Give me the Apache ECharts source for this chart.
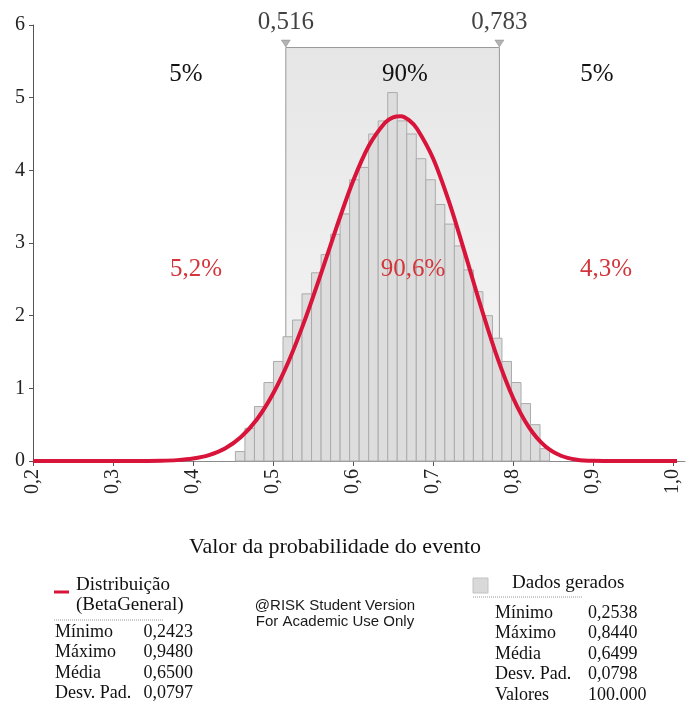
<!DOCTYPE html>
<html>
<head>
<meta charset="utf-8">
<script src="https://cdn.jsdelivr.net/npm/echarts@6/dist/echarts.min.js"></script>
<style>
  html, body { margin: 0; padding: 0; background: #ffffff; }
  #chart { width: 689px; height: 702px; }
</style>
</head>
<body>
<div id="chart"></div>
<script>
// Axis ticks
const xTicks = [0.2, 0.3, 0.4, 0.5, 0.6, 0.7, 0.8, 0.9, 1.0];
const yTicks = [0, 1, 2, 3, 4, 5, 6];

// Histogram of generated values (density per bin)
const binStart = 0.453;
const binWidth = 0.0119;
const binHeights = [
  0.13, 0.45, 0.75, 1.08, 1.37, 1.71, 1.94, 2.30, 2.59, 2.84, 3.12,
  3.40, 3.87, 4.04, 4.50, 4.68, 5.07, 4.68, 4.50, 4.16, 3.87, 3.53,
  3.26, 2.96, 2.63, 2.33, 2.00, 1.69, 1.37, 1.08, 0.79, 0.50, 0.17
];

// Fitted BetaGeneral density
const curveX = [0.20, 0.24, 0.30, 0.34, 0.36, 0.38, 0.40, 0.42, 0.44, 0.46, 0.48,
  0.50, 0.52, 0.54, 0.56, 0.58, 0.60, 0.62, 0.64, 0.65, 0.66, 0.67, 0.68, 0.70,
  0.72, 0.74, 0.76, 0.78, 0.80, 0.82, 0.84, 0.86, 0.88, 0.90, 0.92, 0.96, 1.005];
const curveY = [0, 0, 0, 0.001, 0.003, 0.012, 0.034, 0.082, 0.173, 0.331, 0.575,
  0.926, 1.384, 1.946, 2.578, 3.235, 3.850, 4.341, 4.655, 4.730, 4.745, 4.690, 4.572, 4.166,
  3.568, 2.858, 2.119, 1.436, 0.871, 0.463, 0.206, 0.072, 0.018, 0.002, 0, 0, 0];

// 90% band limits
const bandLimits = [0.516, 0.783];
const bandTop = 5.69;
const targetPct = ['5%', '90%', '5%'];
const fittedPct = ['5,2%', '90,6%', '4,3%'];

// Summary tables
const fitName = ['Distribuição', '(BetaGeneral)'];
const fitStatLabels = ['Mínimo', 'Máximo', 'Média', 'Desv. Pad.'];
const fitStatValues = ['0,2423', '0,9480', '0,6500', '0,0797'];
const dataName = 'Dados gerados';
const dataStatLabels = ['Mínimo', 'Máximo', 'Média', 'Desv. Pad.', 'Valores'];
const dataStatValues = ['0,2538', '0,8440', '0,6499', '0,0798', '100.000'];
const watermark = ['@RISK Student Version', 'For Academic Use Only'];
const axisTitle = 'Valor da probabilidade do evento';

const SERIF = "'Liberation Serif', 'Times New Roman', serif";
const SANS = "'Liberation Sans', Arial, sans-serif";
const RED = '#d8143a';
const RED_TEXT = '#d2353a';

const comma = v => String(v.toFixed(1)).replace('.', ',');

const chart = echarts.init(document.getElementById('chart'), null, { renderer: 'canvas' });

const histData = binHeights.map((h, i) => [binStart + i * binWidth, binStart + (i + 1) * binWidth, h]);
const curveData = curveX.map((x, i) => [x, curveY[i]]);

function txt(text, x, y, size, color, align, family) {
  return {
    type: 'text', silent: true, z: 100,
    style: {
      text: text, x: x, y: y,
      font: size + 'px ' + (family || SERIF),
      fill: color || '#111',
      textAlign: align || 'left',
      textVerticalAlign: 'middle', verticalAlign: 'middle'
    }
  };
}

const graphics = [];
// region percentages
const topXs = [186, 405, 597];
const redXs = [196, 413, 606];
targetPct.forEach((t, i) => graphics.push(txt(t, topXs[i], 74, 25, '#111', 'center')));
fittedPct.forEach((t, i) => graphics.push(txt(t, redXs[i], 269, 25, RED_TEXT, 'center')));
// axis title
graphics.push(txt(axisTitle, 335, 547, 22, '#111', 'center'));
// left legend block
graphics.push({ type: 'line', silent: true, z: 100, shape: { x1: 54, y1: 592, x2: 69, y2: 592 }, style: { stroke: RED, lineWidth: 3 } });
graphics.push(txt(fitName[0], 76, 585, 19));
graphics.push(txt(fitName[1], 76, 605, 19));
graphics.push({ type: 'line', silent: true, z: 100, shape: { x1: 54, y1: 620, x2: 164, y2: 620 }, style: { stroke: '#999', lineWidth: 1, lineDash: [1, 1] } });
fitStatLabels.forEach((l, i) => {
  graphics.push(txt(l, 55, 632 + i * 20.5, 18));
  graphics.push(txt(fitStatValues[i], 193, 632 + i * 20.5, 18, '#111', 'right'));
});
// watermark
graphics.push(txt(watermark[0], 335, 606, 15, '#1a1a1a', 'center', SANS));
graphics.push(txt(watermark[1], 335, 622, 15, '#1a1a1a', 'center', SANS));
// right legend block
graphics.push({ type: 'rect', silent: true, z: 100, shape: { x: 473, y: 578, width: 15, height: 15 }, style: { fill: '#d9d9d9', stroke: '#c2c2c2', lineWidth: 1 } });
graphics.push(txt(dataName, 512, 583, 19));
graphics.push({ type: 'line', silent: true, z: 100, shape: { x1: 473, y1: 597, x2: 583, y2: 597 }, style: { stroke: '#999', lineWidth: 1, lineDash: [1, 1] } });
dataStatLabels.forEach((l, i) => {
  graphics.push(txt(l, 495, 613 + i * 20.5, 18));
  graphics.push(txt(dataStatValues[i], 588, 613 + i * 20.5, 18));
});

chart.setOption({
  animation: false,
  backgroundColor: '#ffffff',
  grid: { left: 33, right: 4, top: 25, bottom: 241, containLabel: false },
  xAxis: {
    type: 'value', min: 0.2, max: 1.015,
    splitLine: { show: false },
    axisLine: { lineStyle: { color: '#8a8a8a', width: 1 } },
    axisTick: { show: true, length: 5, customValues: xTicks, lineStyle: { color: '#555' } },
    axisLabel: {
      customValues: xTicks, rotate: 90, margin: 8,
      formatter: v => comma(v),
      fontFamily: SERIF, fontSize: 20, color: '#222'
    }
  },
  yAxis: {
    type: 'value', min: 0, max: 6, interval: 1,
    splitLine: { show: false },
    axisLine: { show: true, lineStyle: { color: '#555', width: 1 } },
    axisTick: { show: true, length: 4, lineStyle: { color: '#555' } },
    axisLabel: {
      margin: 8, fontFamily: SERIF, fontSize: 20, color: '#222',
      formatter: v => (yTicks.indexOf(v) >= 0 ? String(v) : '')
    }
  },
  series: [
    {
      // shaded 90% band
      type: 'custom', z: 1, silent: true,
      data: [[bandLimits[0], bandLimits[1], bandTop]],
      encode: { x: [0, 1], y: 2 },
      renderItem: function (params, api) {
        const p0 = api.coord([api.value(0), api.value(2)]);
        const p1 = api.coord([api.value(1), 0]);
        return {
          type: 'rect',
          shape: { x: p0[0], y: p0[1], width: p1[0] - p0[0], height: p1[1] - p0[1] },
          style: {
            fill: new echarts.graphic.LinearGradient(0, 0, 0, 1, [
              { offset: 0, color: '#e6e6e6' }, { offset: 1, color: '#f7f7f7' }
            ]),
            stroke: '#999999', lineWidth: 1
          }
        };
      }
    },
    {
      // histogram bars
      type: 'custom', z: 2, silent: true,
      data: histData,
      encode: { x: [0, 1], y: 2 },
      renderItem: function (params, api) {
        const p0 = api.coord([api.value(0), api.value(2)]);
        const p1 = api.coord([api.value(1), 0]);
        return {
          type: 'rect',
          shape: { x: p0[0], y: p0[1], width: p1[0] - p0[0], height: p1[1] - p0[1] },
          style: { fill: '#dddddd', stroke: '#ababab', lineWidth: 1 }
        };
      }
    },
    {
      // fitted density curve
      type: 'line', z: 3, silent: true,
      data: curveData,
      smooth: 0.3,
      showSymbol: false,
      lineStyle: { color: RED, width: 4 }
    },
    {
      // band limit markers
      type: 'scatter', z: 4, silent: true,
      data: bandLimits.map(v => [v, bandTop]),
      symbol: 'triangle', symbolRotate: 180, symbolSize: [9, 7], symbolOffset: [0, -4],
      itemStyle: { color: '#a0a0a0', borderColor: '#7a7a7a', borderWidth: 0.5 },
      label: {
        show: true, position: 'top', distance: 5,
        formatter: p => p.value[0].toFixed(3).replace('.', ','),
        fontFamily: SERIF, fontSize: 25, color: '#111'
      }
    }
  ],
  graphic: graphics
});
</script>
</body>
</html>
